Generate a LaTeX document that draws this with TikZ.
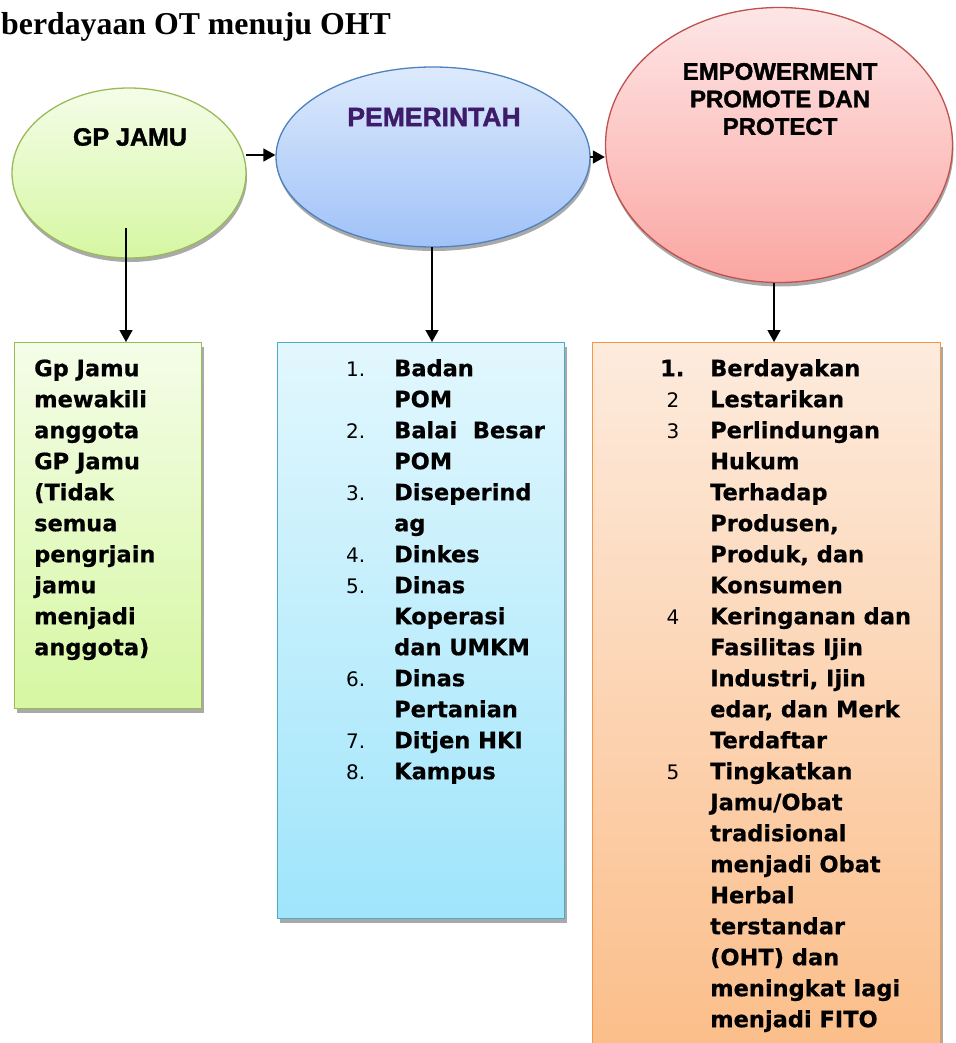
\documentclass[tikz,border=0pt]{standalone}
\usepackage{fontspec}
\setmainfont[BoldFeatures={FakeBold=0.6}]{DejaVu Sans}
\newfontfamily\arialf[BoldFeatures={FakeBold=1.6}]{Liberation Sans}
\newfontfamily\timesf{Liberation Serif}
\usetikzlibrary{shapes.geometric,arrows.meta,shadows}
\definecolor{grnB}{HTML}{9BBB59}
\definecolor{grnT}{HTML}{F4FDE8}
\definecolor{grnM}{HTML}{D6F7A2}
\definecolor{bluB}{HTML}{4F81BD}
\definecolor{bluT}{HTML}{DDEAFC}
\definecolor{bluM}{HTML}{A0C2F8}
\definecolor{redB}{HTML}{C0504D}
\definecolor{redT}{HTML}{FDE6E6}
\definecolor{redM}{HTML}{FBA6A2}
\definecolor{cyaB}{HTML}{4BACC6}
\definecolor{cyaT}{HTML}{E2F7FD}
\definecolor{cyaM}{HTML}{9FE5FB}
\definecolor{orgB}{HTML}{F79646}
\definecolor{orgT}{HTML}{FDEBDD}
\definecolor{orgM}{HTML}{FBBD88}
\definecolor{shd}{HTML}{A0A0A0}
\definecolor{purp}{HTML}{3F1C6B}
\tikzset{
  oval/.style={ellipse, inner sep=0pt, line width=1.3pt,
    drop shadow={shadow xshift=1pt, shadow yshift=-4pt, fill=shd, opacity=0.9}},
  panel/.style={rectangle, anchor=north west, inner sep=0pt, line width=1.3pt,
    drop shadow={shadow xshift=2pt, shadow yshift=-4pt, fill=shd, opacity=0.9}},
  headtxt/.style={inner sep=0pt, align=center, font=\arialf\bfseries\fontsize{25}{27.5}\selectfont},
  listtxt/.style={inner sep=0pt, anchor=north west, font=\bfseries\fontsize{22.5}{31}\selectfont},
  arr/.style={line width=1.6pt, -{Triangle[length=12pt,width=13pt]}},
}
\newcommand{\numf}{\mdseries\fontsize{20}{31}\selectfont}
\begin{document}
\begin{tikzpicture}[x=1pt,y=-1pt]
\useasboundingbox (0,0) rectangle (955,1043);
% title
\node[anchor=base west, inner sep=0pt, font=\timesf\bfseries\fontsize{31.8}{36}\selectfont] (title) at (1,35) {berdayaan OT menuju OHT};
% ellipses
\node[oval, draw=grnB, top color=grnT, bottom color=grnM, minimum width=234pt, minimum height=170pt] (gp) at (129,173) {};
\node[oval, draw=bluB, top color=bluT, bottom color=bluM, minimum width=314pt, minimum height=180pt] (pem) at (433,157) {};
\node[oval, draw=redB, top color=redT, bottom color=redM, minimum width=347pt, minimum height=275pt] (emp) at (779,145) {};
\node[headtxt] (gpt) at (130,137) {GP JAMU};
\node[headtxt, text=purp, font=\arialf\bfseries\fontsize{26.5}{28}\selectfont] (pemt) at (434,117) {PEMERINTAH};
\node[headtxt, font=\arialf\bfseries\fontsize{24}{27.5}\selectfont] (empt) at (780,99) {EMPOWERMENT\\PROMOTE DAN\\PROTECT};
% boxes
\node[panel, draw=grnB, top color=grnT, bottom color=grnM, minimum width=187pt, minimum height=366pt] (gpbox) at (14,342) {};
\node[panel, draw=cyaB, top color=cyaT, bottom color=cyaM, minimum width=287pt, minimum height=576pt] (pembox) at (277,342) {};
\node[panel, draw=orgB, top color=orgT, bottom color=orgM, minimum width=348pt, minimum height=720pt] (empbox) at (592,342) {};
% arrows
\coordinate (gpa) at (126,228);
\coordinate (pema) at (432,247);
\coordinate (empa) at (774,283);
\coordinate (gpe) at (246,155);
\coordinate (peme) at (590,157);
\draw[arr] (gpa) -- (gpa |- gpbox.north);
\draw[arr] (pema) -- (pema |- pembox.north);
\draw[arr] (empa) -- (empa |- empbox.north);
\draw[arr] (gpe) -- (gpe -| pem.west);
\draw[arr] (peme) -- (peme -| emp.west);
% box texts
\node[listtxt] (gplist) at (34,354.3) {%
\begin{tabular}{@{}l@{}}
Gp Jamu\\ mewakili\\ anggota\\ GP Jamu\\ (Tidak\\ semua\\ pengrjain\\ jamu\\ menjadi\\ anggota)
\end{tabular}};
\node[listtxt] (pemlist) at (346,354.3) {%
\begin{tabular}{@{}p{48pt}@{}l@{}}
{\numf 1.} & Badan\\ & POM\\
{\numf 2.} & Balai\ \ Besar\\ & POM\\
{\numf 3.} & Diseperind\\ & ag\\
{\numf 4.} & Dinkes\\
{\numf 5.} & Dinas\\ & Koperasi\\ & dan UMKM\\
{\numf 6.} & Dinas\\ & Pertanian\\
{\numf 7.} & Ditjen HKI\\
{\numf 8.} & Kampus
\end{tabular}};
\node[listtxt] (emplist) at (660,354.3) {%
\begin{tabular}{@{}p{50pt}@{}l@{}}
1. & Berdayakan\\
{\numf\ 2} & Lestarikan\\
{\numf\ 3} & Perlindungan\\ & Hukum\\ & Terhadap\\ & Produsen,\\ & Produk, dan\\ & Konsumen\\
{\numf\ 4} & Keringanan dan\\ & Fasilitas Ijin\\ & Industri, Ijin\\ & edar, dan Merk\\ & Terdaftar\\
{\numf\ 5} & Tingkatkan\\ & Jamu/Obat\\ & tradisional\\ & menjadi Obat\\ & Herbal\\ & terstandar\\ & (OHT) dan\\ & meningkat lagi\\ & menjadi FITO
\end{tabular}};
\end{tikzpicture}
\end{document}
